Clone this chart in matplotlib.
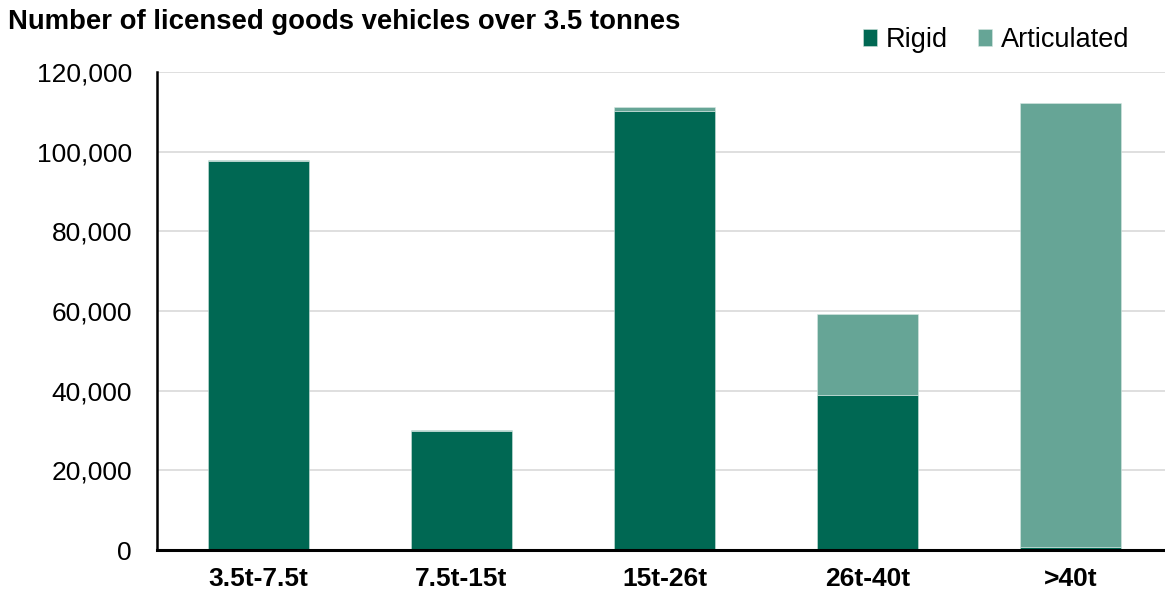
import matplotlib.pyplot as plt
import numpy as np

categories = ['3.5t-7.5t', '7.5t-15t', '15t-26t', '26t-40t', '>40t']
rigid = [97700, 29900, 110100, 38800, 700]
articulated = [300, 300, 1200, 20400, 111500]

rigid_colour = '#006853'
artic_colour = '#66a596'

plt.rcParams['font.family'] = ['Liberation Sans', 'DejaVu Sans']

fig = plt.figure(figsize=(11.65, 5.99), dpi=100)
ax = fig.add_axes([157 / 1165, 49 / 599, 1015 / 1165, 478 / 599])

x = np.arange(len(categories))
ax.bar(x, rigid, width=0.5, color=rigid_colour, edgecolor='#cfe3dd', linewidth=0.4,
       label='Rigid', zorder=3)
ax.bar(x, articulated, width=0.5, bottom=rigid, color=artic_colour, edgecolor='#d7e8e3',
       linewidth=0.4, label='Articulated', zorder=3)

ax.set_xlim(-0.5, 4.5)
ax.set_ylim(0, 120000)
ax.set_yticks(np.arange(0, 120001, 20000))
ax.set_yticklabels([f'{v:,}' for v in range(0, 120001, 20000)], fontsize=19)
ax.set_xticks(x)
ax.set_xticklabels(categories, fontsize=19, fontweight='bold')
ax.tick_params(axis='y', length=0, pad=18)
ax.tick_params(axis='x', length=0, pad=12)
ax.grid(axis='y', color='#d9d9d9', linewidth=1.2, zorder=0)

for side in ['top', 'right']:
    ax.spines[side].set_visible(False)
ax.spines['left'].set_linewidth(1.8)
ax.spines['bottom'].set_linewidth(2.2)
ax.spines['left'].set_zorder(4)
ax.spines['bottom'].set_zorder(4)

fig.text(8 / 1165, 1 - 22 / 599, 'Number of licensed goods vehicles over 3.5 tonnes',
         fontsize=19.8, fontweight='bold', va='center', ha='left')

ax.legend(loc='center right', bbox_to_anchor=(1148 / 1165, 1 - 40 / 599),
          bbox_transform=fig.transFigure, ncol=2, frameon=False, fontsize=19.5,
          handlelength=0.55, handleheight=0.55, handletextpad=0.3, columnspacing=1.1,
          borderpad=0.2)

fig.savefig('out.png', dpi=100)
